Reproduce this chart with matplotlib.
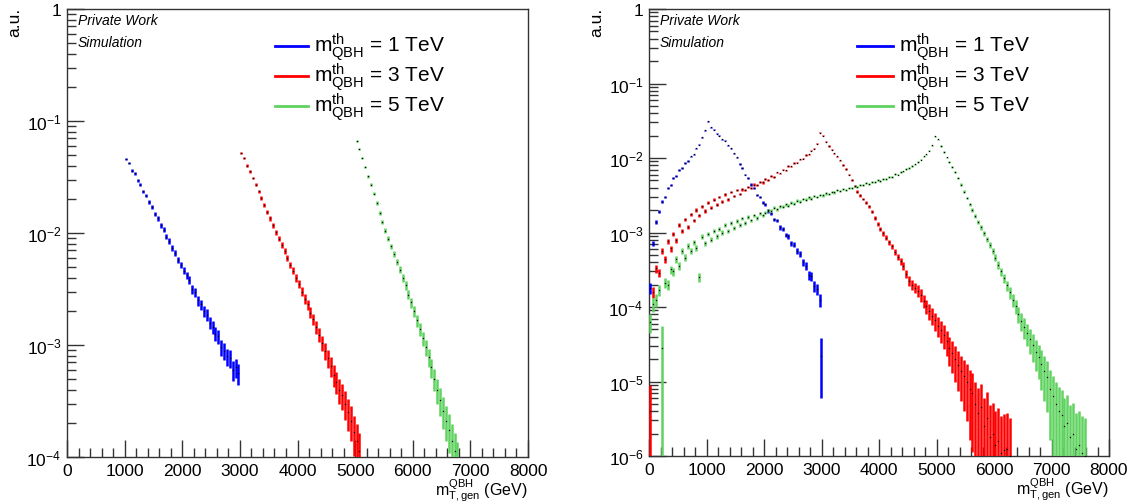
import numpy as np
import matplotlib
matplotlib.use("Agg")
import matplotlib.pyplot as plt
from matplotlib.ticker import LogLocator, MultipleLocator, FuncFormatter, NullFormatter

plt.rcParams['font.family'] = ['Liberation Sans', 'DejaVu Sans']
plt.rcParams['mathtext.fontset'] = 'custom'
plt.rcParams['mathtext.rm'] = 'Liberation Sans'
plt.rcParams['mathtext.it'] = 'Liberation Sans:italic'
plt.rcParams['mathtext.bf'] = 'Liberation Sans:bold'

BIN_WIDTH = 50.0

# ---------------- left panel: generator-level mT above threshold ----------------
left_blue_start = 1000.0
left_blue = [4.6e-2, 4.2e-2, 3.6e-2, 3.4e-2, 2.95e-2, 2.7e-2, 2.35e-2, 2.15e-2, 1.9e-2, 1.7e-2,
             1.48e-2, 1.35e-2, 1.17e-2, 1.07e-2, 9.3e-3, 8.5e-3, 7.4e-3, 6.6e-3, 5.75e-3, 5.2e-3,
             4.6e-3, 4.2e-3, 3.8e-3, 3.16e-3, 2.95e-3, 2.5e-3, 2.3e-3, 2.0e-3, 1.86e-3, 1.58e-3,
             1.45e-3, 1.26e-3, 1.2e-3, 9.5e-4, 8.9e-4, 7.9e-4, 7.6e-4, 6.0e-4, 6.3e-4, 5.6e-4]

left_red_start = 3000.0
left_red = [5.2e-2, 4.7e-2, 4.0e-2, 3.55e-2, 3.1e-2, 2.7e-2, 2.35e-2, 2.05e-2, 1.78e-2, 1.55e-2,
            1.35e-2, 1.17e-2, 1.02e-2, 8.9e-3, 7.8e-3, 6.9e-3, 6.0e-3, 5.2e-3, 4.6e-3, 4.0e-3,
            3.5e-3, 3.0e-3, 2.6e-3, 2.3e-3, 1.95e-3, 1.7e-3, 1.45e-3, 1.23e-3, 1.05e-3, 8.9e-4,
            7.6e-4, 6.5e-4, 5.4e-4, 4.7e-4, 4.0e-4, 3.55e-4, 3.0e-4, 2.5e-4, 2.1e-4, 1.66e-4,
            1.38e-4, 1.12e-4]

left_green_start = 5000.0
left_green = [6.6e-2, 5.6e-2, 4.7e-2, 3.9e-2, 3.2e-2, 2.7e-2, 2.24e-2, 1.86e-2, 1.51e-2, 1.26e-2,
              1.05e-2, 8.9e-3, 7.6e-3, 6.5e-3, 5.5e-3, 4.7e-3, 4.0e-3, 3.4e-3, 2.82e-3, 2.4e-3,
              2.0e-3, 1.66e-3, 1.38e-3, 1.15e-3, 9.5e-4, 7.8e-4, 6.3e-4, 5.0e-4, 4.0e-4, 3.2e-4,
              2.6e-4, 2.1e-4, 1.74e-4, 1.38e-4, 1.12e-4, 8.9e-5]

# ---------------- right panel: full generator-level mT spectrum ----------------
right_blue_start = 0.0
right_blue = [1.8e-4, 7.1e-4, 1.4e-3, 1.9e-3, 2.6e-3, 3.0e-3, 4.0e-3, 4.3e-3, 5.4e-3, 5.8e-3,
              6.9e-3, 7.4e-3, 8.5e-3, 9.1e-3, 1.05e-2, 1.12e-2, 1.35e-2, 1.5e-2, 1.9e-2, 2.35e-2,
              3.1e-2, 2.6e-2, 2.4e-2, 2.1e-2, 2.0e-2, 1.78e-2, 1.7e-2, 1.48e-2, 1.35e-2, 1.15e-2,
              1.02e-2, 8.3e-3, 7.4e-3, 6.0e-3, 5.4e-3, 4.4e-3, 4.0e-3, 3.2e-3, 3.0e-3, 2.5e-3,
              2.4e-3, 1.95e-3, 1.8e-3, 1.5e-3, 1.45e-3, 1.17e-3, 1.12e-3, 9.3e-4, 8.9e-4, 7.2e-4,
              6.9e-4, 5.6e-4, 5.2e-4, 4.0e-4, 3.6e-4, 2.7e-4, 2.6e-4, 1.9e-4, 1.74e-4, 1.26e-4]
# single low-statistics bin right at the upper edge
right_blue_edge_x = [2995.0]
right_blue_edge = [2.2e-5]
right_blue_edge_err = [1.6e-5]

right_red_start = 0.0
right_red = [4.0e-6, 1.6e-4, 3.3e-4, 2.9e-4, 5.6e-4, 4.4e-4, 7.6e-4, 6.1e-4, 9.6e-4, 7.9e-4,
             1.25e-3, 1.05e-3, 1.5e-3, 1.2e-3, 1.75e-3, 1.45e-3, 2.0e-3, 1.7e-3, 2.25e-3, 1.95e-3,
             2.5e-3, 2.15e-3, 2.75e-3, 2.35e-3, 3.0e-3, 2.6e-3, 3.25e-3, 2.8e-3, 3.5e-3, 3.1e-3,
             3.75e-3, 3.3e-3, 3.8e-3, 3.7e-3, 4.1e-3, 4.0e-3, 4.4e-3, 4.3e-3, 4.8e-3, 4.7e-3,
             5.3e-3, 5.1e-3, 5.8e-3, 5.6e-3, 6.4e-3, 6.2e-3, 7.0e-3, 6.8e-3, 7.8e-3, 7.7e-3,
             8.6e-3, 8.7e-3, 9.6e-3, 9.8e-3, 1.1e-2, 1.12e-2, 1.26e-2, 1.33e-2, 1.55e-2, 2.19e-2,
             2.0e-2, 1.66e-2, 1.45e-2, 1.29e-2, 1.15e-2, 1.05e-2, 9.3e-3, 8.1e-3, 7.1e-3, 6.0e-3,
             5.0e-3, 4.2e-3, 3.55e-3, 3.16e-3, 2.82e-3, 2.51e-3, 2.24e-3, 1.91e-3, 1.58e-3, 1.32e-3,
             1.12e-3, 9.8e-4, 8.5e-4, 7.4e-4, 6.5e-4, 5.5e-4, 4.7e-4, 4.1e-4, 3.55e-4, 2.8e-4,
             2.24e-4, 2.0e-4, 1.82e-4, 1.66e-4, 1.45e-4, 1.2e-4, 1.02e-4, 8.9e-5, 7.6e-5, 6.6e-5,
             5.6e-5, 4.9e-5, 4.2e-5, 3.5e-5, 2.8e-5, 2.4e-5, 2.0e-5, 1.66e-5, 1.38e-5, 1.17e-5,
             1.0e-5, 7.9e-6, 7.1e-6, 5.0e-6, 3.8e-6, 4.5e-6, 2.5e-6, 3.2e-6, 1.8e-6, 2.0e-6,
             1.4e-6, 1.6e-6, 1.1e-6, 1.2e-6, 1.26e-6, 1.0e-6]

right_green_start = 0.0
right_green = [6.3e-5, 1.1e-4, 1.25e-4, 1.7e-4, 2.8e-5, 2.1e-4, 2.0e-4, 3.2e-4, 3.0e-4, 4.4e-4,
               3.6e-4, 5.6e-4, 4.6e-4, 6.6e-4, 5.6e-4, 7.4e-4, 6.2e-4, 2.5e-4, 8.8e-4, 7.2e-4,
               9.6e-4, 8.0e-4, 1.05e-3, 8.9e-4, 1.12e-3, 1.0e-3, 1.25e-3, 1.05e-3, 1.33e-3, 1.15e-3,
               1.43e-3, 1.25e-3, 1.55e-3, 1.35e-3, 1.62e-3, 1.45e-3, 1.7e-3, 1.58e-3, 1.8e-3, 1.7e-3,
               1.85e-3, 1.98e-3, 1.97e-3, 2.14e-3, 2.05e-3, 2.24e-3, 2.22e-3, 2.38e-3, 2.3e-3, 2.5e-3,
               2.45e-3, 2.68e-3, 2.6e-3, 2.82e-3, 2.75e-3, 2.95e-3, 2.85e-3, 3.1e-3, 3.0e-3, 3.2e-3,
               3.15e-3, 3.35e-3, 3.3e-3, 3.5e-3, 3.45e-3, 3.7e-3, 3.6e-3, 3.85e-3, 3.75e-3, 4.0e-3,
               3.95e-3, 4.2e-3, 4.1e-3, 4.35e-3, 4.3e-3, 4.6e-3, 4.5e-3, 4.8e-3, 4.75e-3, 5.0e-3,
               4.95e-3, 5.25e-3, 5.2e-3, 5.6e-3, 5.5e-3, 6.1e-3, 6.0e-3, 6.5e-3, 6.6e-3, 7.1e-3,
               7.3e-3, 7.8e-3, 8.2e-3, 8.9e-3, 9.5e-3, 1.05e-2, 1.12e-2, 1.26e-2, 1.48e-2, 1.95e-2,
               1.78e-2, 1.45e-2, 1.2e-2, 1.02e-2, 8.9e-3, 7.6e-3, 6.5e-3, 5.4e-3, 4.4e-3, 3.55e-3,
               2.9e-3, 2.4e-3, 2.0e-3, 1.66e-3, 1.38e-3, 1.17e-3, 9.8e-4, 8.1e-4, 6.8e-4, 5.6e-4,
               4.6e-4, 3.7e-4, 3.0e-4, 2.45e-4, 1.95e-4, 1.58e-4, 1.26e-4, 1.02e-4, 8.1e-5, 6.5e-5,
               5.4e-5, 4.5e-5, 3.7e-5, 3.1e-5, 2.5e-5, 2.1e-5, 1.7e-5, 1.38e-5, 1.15e-5, 7.9e-6,
               6.3e-6, 5.0e-6, 4.0e-6, 3.5e-6, 2.5e-6, 2.8e-6, 1.8e-6, 2.0e-6, 1.26e-6, 1.4e-6,
               1.1e-6, 1.0e-6]
# bins filled by only a handful of events: (bin index, absolute error)
right_green_lowstat = [(4, 2.8e-5)]
right_red_lowstat = [(0, 5.0e-6)]

legend_labels = [r'$\mathrm{m}_{\mathrm{QBH}}^{\mathrm{th}}$ = 1 TeV',
                 r'$\mathrm{m}_{\mathrm{QBH}}^{\mathrm{th}}$ = 3 TeV',
                 r'$\mathrm{m}_{\mathrm{QBH}}^{\mathrm{th}}$ = 5 TeV']
colors = ['#0000ff', '#ff0000', '#5fd35f']
x_ticks = [0, 1000, 2000, 3000, 4000, 5000, 6000, 7000, 8000]

W, H = 1137, 502
fig = plt.figure(figsize=(W / 100, H / 100), dpi=100)


def px_axes(l, t, r, b):
    return fig.add_axes([l / W, 1 - b / H, (r - l) / W, (b - t) / H])


def draw_points(ax, x, vals, err, color, ymin):
    x = np.asarray(x, dtype=float)
    vals = np.asarray(vals, dtype=float)
    err = np.asarray(err, dtype=float)
    lo = np.clip(vals - err, ymin * 0.5, None)
    hi = vals + err
    ax.vlines(x, lo, hi, colors=color, lw=1.8, zorder=3)
    ax.plot(x, vals, ls='none', marker='s', ms=0.9, mew=0, color='black', zorder=4)


def draw_hist(ax, start, vals, color, k, ymin, lowstat=()):
    vals = np.asarray(vals, dtype=float)
    x = start + BIN_WIDTH * (np.arange(len(vals)) + 0.5)
    err = np.sqrt(k * vals)
    for i, e in lowstat:
        err[i] = e
    draw_points(ax, x, vals, err, color, ymin)


def style_axes(ax, ymin):
    ax.set_xlim(0, 8000)
    ax.set_yscale('log')
    ax.set_ylim(ymin, 1)
    ax.xaxis.set_major_locator(MultipleLocator(1000))
    ax.xaxis.set_minor_locator(MultipleLocator(200))
    ax.yaxis.set_major_locator(LogLocator(base=10, numticks=20))
    ax.yaxis.set_minor_locator(LogLocator(base=10, subs=np.arange(2, 10), numticks=20))
    ax.yaxis.set_minor_formatter(NullFormatter())

    def fmt(v, _):
        e = int(round(np.log10(v)))
        return '1' if e == 0 else r'$10^{%d}$' % e
    ax.yaxis.set_major_formatter(FuncFormatter(fmt))
    ax.set_xticks(x_ticks)
    ax.set_xticklabels([str(t) for t in x_ticks])
    ax.tick_params(which='both', direction='in', top=False, right=False, labelsize=12.5,
                   width=1.0, color='#333333')
    ax.tick_params(which='major', length=12.5, pad=4)
    ax.tick_params(which='minor', length=6.5)
    for s in ax.spines.values():
        s.set_color('#333333')
        s.set_linewidth(1.0)
    ax.text(0.024, 0.99, 'Private Work', transform=ax.transAxes, fontsize=10,
            style='italic', va='top', ha='left')
    ax.text(0.024, 0.942, 'Simulation', transform=ax.transAxes, fontsize=10,
            style='italic', va='top', ha='left')
    ax.text(1.0, -0.0425, r'$\mathrm{m}_{\mathrm{T,gen}}^{\mathrm{QBH}}$ (GeV)', transform=ax.transAxes,
            fontsize=11.5, ha='right', va='top')


def legend(ax, line_x0, line_x1, text_x, rows_y):
    # entries placed in figure pixels so that both panels share the same layout
    for lab, c, yy in zip(legend_labels, colors, rows_y):
        yf = 1 - yy / H
        ax.plot([line_x0 / W, line_x1 / W], [yf, yf], color=c, lw=2.0,
                transform=fig.transFigure, clip_on=False)
        ax.text(text_x / W, yf, lab, transform=fig.transFigure, fontsize=15,
                ha='left', va='center')


# left panel
ax1 = px_axes(67, 10, 528, 458)
draw_hist(ax1, left_blue_start, left_blue, colors[0], 2.5e-5, 1e-4)
draw_hist(ax1, left_red_start, left_red, colors[1], 2.5e-5, 1e-4)
draw_hist(ax1, left_green_start, left_green, colors[2], 2.5e-5, 1e-4)
style_axes(ax1, 1e-4)
legend(ax1, 275, 308, 314, [47, 77, 107])

# right panel
ax2 = px_axes(649, 10, 1109, 457)
draw_hist(ax2, right_blue_start, right_blue, colors[0], 5e-6, 1e-6)
draw_points(ax2, right_blue_edge_x, right_blue_edge, right_blue_edge_err, colors[0], 1e-6)
draw_hist(ax2, right_red_start, right_red, colors[1], 5e-6, 1e-6, right_red_lowstat)
draw_hist(ax2, right_green_start, right_green, colors[2], 5e-6, 1e-6, right_green_lowstat)
style_axes(ax2, 1e-6)
legend(ax2, 857, 893, 899, [47, 77, 107])

fig.text(15 / W, 1 - 8 / H, 'a.u.', rotation=90, ha='center', va='top', fontsize=12.5)
fig.text(597 / W, 1 - 8 / H, 'a.u.', rotation=90, ha='center', va='top', fontsize=12.5)

fig.savefig('out.png', dpi=100)
